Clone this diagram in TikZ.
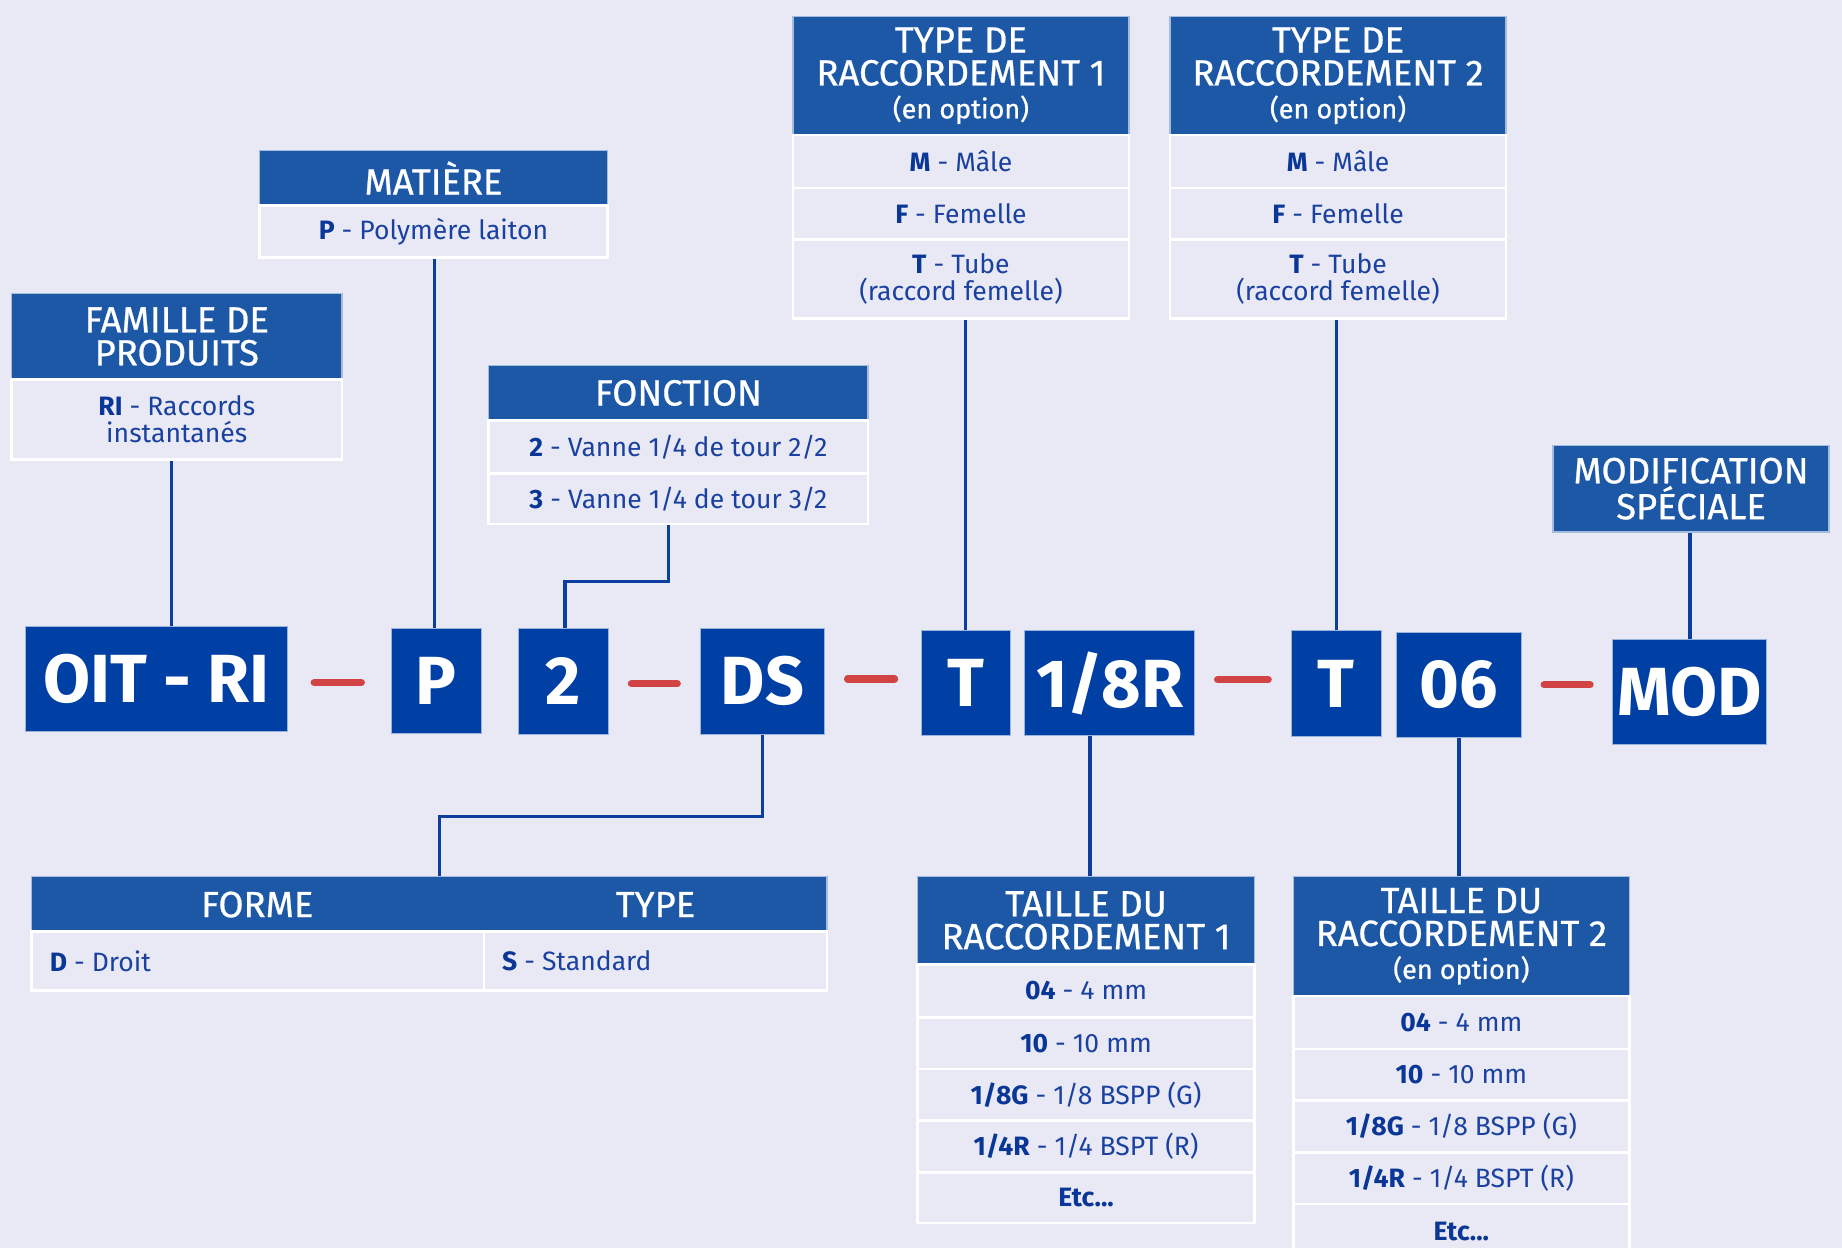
\documentclass[tikz,border=0pt]{standalone}
\usepackage{fontspec}
\setmainfont{Fira Sans}
\newfontfamily\medfont{Fira Sans}[FakeBold=0.7]
\usetikzlibrary{calc}
\definecolor{bg}{HTML}{E8E9F5}
\definecolor{hdrblue}{HTML}{1D58A7}
\definecolor{codeblue}{HTML}{0040A4}
\definecolor{txt}{HTML}{1A41A0}
\definecolor{keyc}{HTML}{0A3797}
\definecolor{connc}{HTML}{0B3E9F}
\definecolor{sepred}{HTML}{D24343}
\newcommand\keyw[1]{{\bfseries\color{keyc}#1}}
\newcommand\hdrfont{\medfont\fontsize{15.5}{14}\selectfont}
\newcommand\optfont{\fontsize{11.5}{13.5}\selectfont}
\newcommand\cellfont{\fontsize{11.3}{11.5}\selectfont}
\newcommand\codefont{\fontsize{29}{30}\selectfont\bfseries}
% box: style, name, x1, y1, x2, y2, text
\newcommand\bx[7]{%
  \pgfmathsetmacro\bxw{(#5-#3)*0.5}%
  \pgfmathsetmacro\bxh{(#6-#4)*0.5}%
  \node[#1, minimum width=\bxw pt, minimum height=\bxh pt] (#2) at ({(#3+#5)/2},{(#4+#6)/2}) {#7};}
\begin{document}
\begin{tikzpicture}[x=0.5pt,y=-0.5pt,
  hdr/.style={fill=hdrblue, draw=white!60!hdrblue, line width=0.6pt, inner sep=0pt, text=white, font=\hdrfont, align=center},
  hdrbare/.style={fill=hdrblue, draw=white!60!hdrblue, line width=0.6pt, inner sep=0pt},
  cell/.style={fill=bg, draw=white, line width=1.1pt, inner sep=0pt, text=txt, font=\cellfont, align=center},
  code/.style={fill=codeblue, draw=white!60!codeblue, line width=0.4pt, inner sep=0pt, text=white, font=\codefont},
  conn/.style={draw=connc, line width=1.5pt},
  sepdash/.style={draw=sepred, line width=3pt, line cap=round, shorten <=9.5pt, shorten >=9.5pt},
  lbl/.style={inner sep=0pt, font=\cellfont, text=txt}
]
\fill[bg] (0,0) rectangle (1568,1062);
\clip (0,0) rectangle (1568,1062);

% ---- top boxes
\bx{hdr}{fam}{10}{250}{291}{323}{FAMILLE DE\\PRODUITS}
\bx{cell}{famb}{10}{323}{291}{391}{\keyw{RI} - Raccords\\instantanés}

\bx{hdr}{mat}{221}{128}{517}{175}{MATIÈRE}
\bx{cell}{matb}{221}{175}{517}{219}{\keyw{P} - Polymère laiton}

\bx{hdr}{fon}{416}{311}{739}{358}{FONCTION}
\bx{cell}{fon1}{416}{358}{739}{403}{\keyw{2} - Vanne 1/4 de tour 2/2}
\bx{cell}{fon2}{416}{403}{739}{446}{\keyw{3} - Vanne 1/4 de tour 3/2}

\bx{hdr}{tra}{675}{14}{961}{115}{TYPE DE\\RACCORDEMENT 1\\{\optfont(en option)}}
\bx{cell}{tra1}{675}{115}{961}{160}{\keyw{M} - Mâle}
\bx{cell}{tra2}{675}{160}{961}{204}{\keyw{F} - Femelle}
\bx{cell}{tra3}{675}{204}{961}{271}{\keyw{T} - Tube\\(raccord femelle)}

\bx{hdr}{trb}{996}{14}{1282}{115}{TYPE DE\\RACCORDEMENT 2\\{\optfont(en option)}}
\bx{cell}{trb1}{996}{115}{1282}{160}{\keyw{M} - Mâle}
\bx{cell}{trb2}{996}{160}{1282}{204}{\keyw{F} - Femelle}
\bx{cell}{trb3}{996}{204}{1282}{271}{\keyw{T} - Tube\\(raccord femelle)}

\bx{hdr}{mods}{1322}{379}{1557}{453}{MODIFICATION\\SPÉCIALE}

% ---- code boxes
\bx{code}{oit}{22}{533}{245}{623}{OIT - RI}
\bx{code}{cp}{333}{535}{410}{624}{P}
\bx{code}{ctwo}{441}{535}{518}{625}{2}
\bx{code}{cds}{596}{535}{702}{625}{DS}
\bx{code}{cta}{784}{537}{860}{626}{T}
\bx{code}{cr}{872}{537}{1017}{626}{1/8R}
\bx{code}{ctb}{1099}{537}{1176}{627}{T}
\bx{code}{czs}{1189}{538}{1295}{628}{06}
\bx{code}{cmod}{1373}{544}{1504}{634}{MOD}

% ---- red separators
\draw[sepdash, shorten <=11pt, shorten >=12.5pt] (oit.east) ++(0,3) coordinate (oitr) (oitr) -- (oitr -| cp.west);
\draw[sepdash] (ctwo.east) ++(0,2) coordinate (twor) (twor) -- (twor -| cds.west);
\draw[sepdash, shorten >=11pt] (cds.east) ++(0,-2) coordinate (dsr) (dsr) -- (dsr -| cta.west);
\draw[sepdash] (cr.east) ++(0,-3) coordinate (crr) (crr) -- (crr -| ctb.west);
\draw[sepdash] (czs.east) -- (czs.east -| cmod.west);

% ---- bottom boxes
\bx{hdrbare}{fth}{27}{746}{704}{793}{}
\node[inner sep=0pt, text=white, font=\hdrfont] (fthl) at (219,770) {FORME};
\node[inner sep=0pt, text=white, font=\hdrfont] (fthr) at (558,770) {TYPE};
\bx{cell}{ftb1}{27}{793}{412}{843}{}
\bx{cell}{ftb2}{412}{793}{704}{843}{}
\node[lbl, anchor=west] (ftt1) at (42,818) {\keyw{D} - Droit};
\node[lbl, anchor=west] (ftt2) at (427,818) {\keyw{S} - Standard};

\bx{hdr}{tla}{781}{746}{1068}{821}{TAILLE DU\\RACCORDEMENT 1}
\bx{cell}{tla1}{781}{821}{1068}{866}{\keyw{04} - 4 mm}
\bx{cell}{tla2}{781}{866}{1068}{910}{\keyw{10} - 10 mm}
\bx{cell}{tla3}{781}{910}{1068}{954}{\keyw{1/8G} - 1/8 BSPP (G)}
\bx{cell}{tla4}{781}{954}{1068}{998}{\keyw{1/4R} - 1/4 BSPT (R)}
\bx{cell}{tla5}{781}{998}{1068}{1041}{\keyw{Etc...}}

\bx{hdr}{tlb}{1101}{746}{1387}{848}{TAILLE DU\\RACCORDEMENT 2\\{\optfont(en option)}}
\bx{cell}{tlb1}{1101}{848}{1387}{893}{\keyw{04} - 4 mm}
\bx{cell}{tlb2}{1101}{893}{1387}{937}{\keyw{10} - 10 mm}
\bx{cell}{tlb3}{1101}{937}{1387}{981}{\keyw{1/8G} - 1/8 BSPP (G)}
\bx{cell}{tlb4}{1101}{981}{1387}{1025}{\keyw{1/4R} - 1/4 BSPT (R)}
\bx{cell}{tlb5}{1101}{1025}{1387}{1072}{}
\node[lbl] (tlb5t) at (1244,1048) {\keyw{Etc...}};

% ---- connectors
\coordinate (xfam) at (146,0);
\coordinate (xmat) at (370,0);
\coordinate (xfon) at (569,0);
\coordinate (elfon) at (481,495);
\coordinate (elds) at (374,695);
\coordinate (xr) at (928,0);

\draw[conn] (famb.south -| xfam) -- (oit.north -| xfam);
\draw[conn] (matb.south -| xmat) -- (cp.north -| xmat);
\draw[conn] (fon2.south -| xfon) |- (elfon) -- (ctwo.north -| elfon);
\draw[conn] (tra3.south -| cta.north) -- (cta.north);
\draw[conn] (trb3.south -| ctb.north) -- (ctb.north);
\draw[conn] (mods.south -| cmod.north) -- (cmod.north);
\draw[conn] (cds.south) |- (elds) -- (fth.north -| elds);
\draw[conn] (cr.south -| xr) -- (tla.north -| xr);
\draw[conn] (czs.south) -- (tlb.north -| czs.south);
\end{tikzpicture}
\end{document}
